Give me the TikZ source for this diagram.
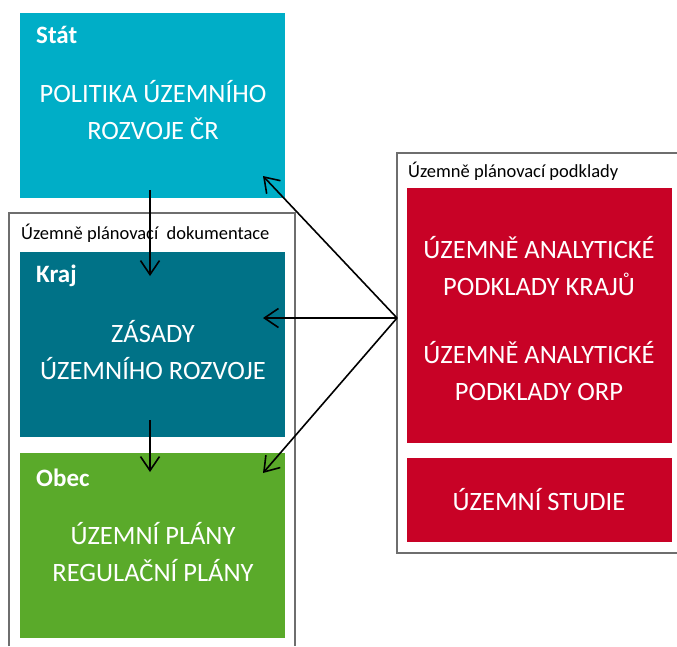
\documentclass[tikz,border=0pt]{standalone}
\usepackage{fontspec}
\setmainfont{Carlito}
\usetikzlibrary{arrows.meta}
\definecolor{statc}{RGB}{0,174,199}
\definecolor{krajc}{RGB}{0,114,135}
\definecolor{obecc}{RGB}{90,170,42}
\definecolor{redc}{RGB}{200,2,38}
\definecolor{framec}{RGB}{110,110,110}
\tikzset{
  box/.style={rectangle, draw=none, inner sep=0pt, anchor=north west},
  frameline/.style={draw=framec, line width=1.3pt},
  ttl/.style={text=white, font=\fontsize{25}{28}\selectfont\bfseries, anchor=base west, inner sep=0pt},
  big/.style={text=white, font=\fontsize{26.5}{37}\selectfont, align=center, inner sep=0pt},
  lbl/.style={text=black, font=\fontsize{18.5}{20}\selectfont, anchor=base west, inner sep=0pt},
  arr/.style={draw=black, line width=1.6pt, -{Straight Barb[length=14pt,width=19pt,line width=1.6pt]}}
}
\begin{document}
\begin{tikzpicture}[x=1pt,y=-1pt]
\useasboundingbox (0,0) rectangle (677,646);
% frames
\draw[frameline] (9,646) -- (9,213) -- (295,213) -- (295,646);
\draw[frameline] (677,153) -- (397,153) -- (397,553) -- (677,553);
\node[lbl] (dokl) at (21,239) {Územně plánovací\ \ dokumentace};
\node[lbl] (podl) at (408,177) {Územně plánovací podklady};
% boxes
\node[box, fill=statc, minimum width=265pt, minimum height=185pt] (stat) at (20,13) {};
\node[box, fill=krajc, minimum width=265pt, minimum height=185pt] (kraj) at (20,252) {};
\node[box, fill=obecc, minimum width=265pt, minimum height=185pt] (obec) at (20,453) {};
\node[box, fill=redc, minimum width=265pt, minimum height=255pt] (uap) at (407,188) {};
\node[box, fill=redc, minimum width=265pt, minimum height=84pt] (us) at (407,458) {};
% titles
\node[ttl] (statT) at (36,43) {Stát};
\node[ttl] (krajT) at (36,282) {Kraj};
\node[ttl] (obecT) at (36,486) {Obec};
% texts
\node[big] (statX) at (153,110) {POLITIKA ÚZEMNÍHO\\ROZVOJE ČR};
\node[big] (krajX) at (153,350) {ZÁSADY\\ÚZEMNÍHO ROZVOJE};
\node[big] (obecX) at (153,552) {ÚZEMNÍ PLÁNY\\REGULAČNÍ PLÁNY};
\node[big] (uap1) at (539,266) {ÚZEMNĚ ANALYTICKÉ\\PODKLADY KRAJŮ};
\node[big] (uap2) at (539,371) {ÚZEMNĚ ANALYTICKÉ\\PODKLADY ORP};
\node[big] (usX) at (539,500) {ÚZEMNÍ STUDIE};
% connectors
\coordinate (hub) at (397,318);
\coordinate (statE) at (263,176);
\coordinate (krajE) at (263,318);
\coordinate (obecE) at (263,473);
\coordinate (statB) at (150,190);
\coordinate (krajI) at (150,276);
\coordinate (krajB) at (150,420);
\coordinate (obecI) at (150,472);
\draw[arr] (hub) -- (statE);
\draw[arr] (hub) -- (krajE);
\draw[arr] (hub) -- (obecE);
\draw[arr] (statB) -- (krajI);
\draw[arr] (krajB) -- (obecI);
\end{tikzpicture}
\end{document}
